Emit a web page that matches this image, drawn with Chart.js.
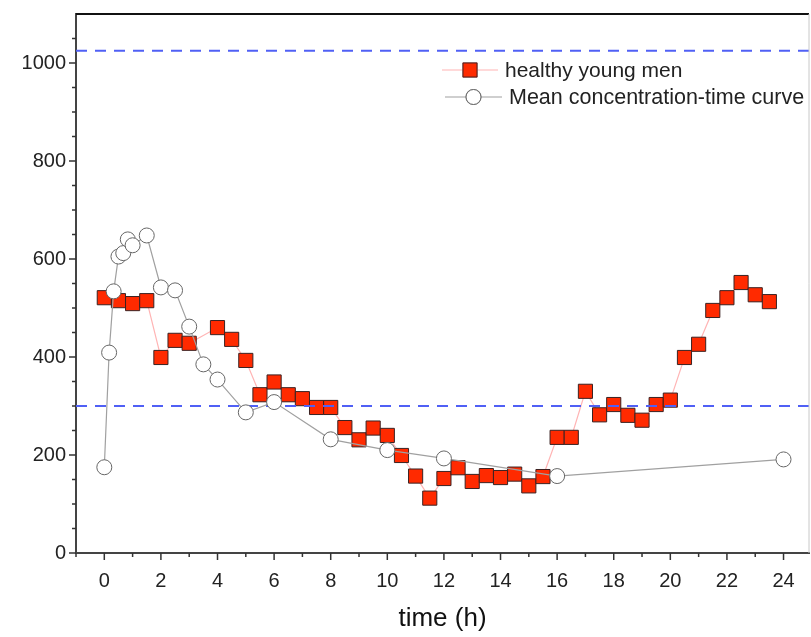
<!DOCTYPE html>
<html>
<head>
<meta charset="utf-8">
<script src="https://cdn.jsdelivr.net/npm/chart.js@4.4.1/dist/chart.umd.min.js"></script>
<style>
  html, body { margin: 0; padding: 0; background: #fff; overflow: hidden; }
  #wrap { width: 811px; height: 637px; }
</style>
</head>
<body>
<div id="wrap"><canvas id="chart"></canvas></div>
<script>
// Données
const menTimes = [0, 0.5, 1, 1.5, 2, 2.5, 3, 4, 4.5, 5, 5.5, 6, 6.5, 7, 7.5, 8, 8.5, 9, 9.5, 10,
    10.5, 11, 11.5, 12, 12.5, 13, 13.5, 14, 14.5, 15, 15.5, 16, 16.5, 17, 17.5, 18, 18.5, 19,
    19.5, 20, 20.5, 21, 21.5, 22, 22.5, 23, 23.5];
const menValues = [521, 515, 509, 515, 399, 434, 428, 460, 436, 393, 323, 349, 323, 315, 297, 297,
    256, 231, 255, 240, 199, 157, 112, 152, 174, 146, 158, 154, 161, 137, 156, 236, 236, 330,
    282, 303, 281, 271, 303, 312, 399, 426, 495, 521, 552, 527, 513];

const meanTimes = [0, 0.17, 0.33, 0.5, 0.67, 0.83, 1, 1.5, 2, 2.5, 3, 3.5, 4, 5, 6, 8, 10, 12, 16, 24];
const meanValues = [175, 409, 534, 605, 612, 640, 628, 648, 542, 536, 462, 385, 354, 287, 308,
    232, 210, 193, 157, 191];

const refLevels = [1025, 300];
const xTickLabels = [0, 2, 4, 6, 8, 10, 12, 14, 16, 18, 20, 22, 24];
const yTickLabels = [0, 200, 400, 600, 800, 1000];

const FONT = "'Liberation Sans', Arial, sans-serif";

const toPoints = (xs, ys) => xs.map((x, i) => ({ x: x, y: ys[i] }));

// Lignes de référence en pointillés (dessinées après les carrés)
const refLinesPlugin = {
    id: "refLines",
    afterDatasetDraw(chart, args) {
        if (args.index !== 0) return;
        const { ctx, chartArea, scales } = chart;
        ctx.save();
        ctx.strokeStyle = "#5060f5";
        ctx.lineWidth = 2;
        ctx.setLineDash([11, 8]);
        refLevels.forEach(v => {
            const y = scales.y.getPixelForValue(v);
            ctx.beginPath();
            ctx.moveTo(chartArea.left, y);
            ctx.lineTo(chartArea.right, y);
            ctx.stroke();
        });
        ctx.restore();
    }
};

// Graduations majeures / mineures et cadre
const ticksPlugin = {
    id: "axisTicks",
    afterDraw(chart) {
        const { ctx, chartArea, scales } = chart;
        ctx.save();
        ctx.strokeStyle = "#333";
        ctx.lineWidth = 1.5;
        for (let t = -1; t <= 24; t++) {
            const x = scales.x.getPixelForValue(t);
            const len = t % 2 === 0 ? 7 : 4;
            ctx.beginPath();
            ctx.moveTo(x, chartArea.bottom);
            ctx.lineTo(x, chartArea.bottom + len);
            ctx.stroke();
        }
        for (let v = 0; v <= 1050; v += 50) {
            const y = scales.y.getPixelForValue(v);
            const len = v % 200 === 0 ? 7 : 4;
            ctx.beginPath();
            ctx.moveTo(chartArea.left, y);
            ctx.lineTo(chartArea.left - len, y);
            ctx.stroke();
        }
        // cadre haut et droit
        ctx.strokeStyle = "#111";
        ctx.lineWidth = 2;
        ctx.beginPath();
        ctx.moveTo(chartArea.left, chartArea.top);
        ctx.lineTo(chartArea.right, chartArea.top);
        ctx.stroke();
        ctx.strokeStyle = "#c8c8c8";
        ctx.lineWidth = 1;
        ctx.beginPath();
        ctx.moveTo(chartArea.right, chartArea.top);
        ctx.lineTo(chartArea.right, chartArea.bottom);
        ctx.stroke();
        ctx.restore();
    }
};

// Légende avec ligne + marqueur
const legendPlugin = {
    id: "lineLegend",
    afterDraw(chart) {
        const { ctx } = chart;
        const items = [
            { ds: chart.data.datasets[0], x0: 442, x1: 498, y: 70, tx: 505, size: 21 },
            { ds: chart.data.datasets[1], x0: 445, x1: 502, y: 97, tx: 509, size: 21.5 }
        ];
        ctx.save();
        items.forEach(it => {
            ctx.strokeStyle = it.ds.borderColor;
            ctx.lineWidth = 1.2;
            ctx.beginPath();
            ctx.moveTo(it.x0, it.y);
            ctx.lineTo(it.x1, it.y);
            ctx.stroke();
            Chart.helpers.drawPoint(ctx, {
                pointStyle: it.ds.pointStyle,
                radius: it.ds.pointRadius,
                borderWidth: it.ds.pointBorderWidth
            }, (it.x0 + it.x1) / 2, it.y);
            ctx.fillStyle = it.ds.pointBackgroundColor;
            ctx.strokeStyle = it.ds.pointBorderColor;
            ctx.lineWidth = it.ds.pointBorderWidth;
            ctx.fill();
            ctx.stroke();
            ctx.fillStyle = "#222";
            ctx.font = it.size + "px " + FONT;
            ctx.textBaseline = "middle";
            ctx.fillText(it.ds.label, it.tx, it.y + 1);
        });
        ctx.restore();
    }
};

document.addEventListener("DOMContentLoaded", () => {
    const ctx = document.getElementById("chart").getContext("2d");

    new Chart(ctx, {
        type: "line",
        data: {
            datasets: [{
                label: "healthy young men",
                data: toPoints(menTimes, menValues),
                borderColor: "#ffb4b4",
                borderWidth: 1.2,
                pointStyle: "rect",
                pointRadius: 10,
                pointBorderWidth: 1,
                pointBackgroundColor: "#ff2a00",
                pointBorderColor: "#3a2222",
                order: 1
            }, {
                label: "Mean concentration-time curve",
                data: toPoints(meanTimes, meanValues),
                borderColor: "#a0a0a0",
                borderWidth: 1.2,
                pointStyle: "circle",
                pointRadius: 7.5,
                pointBorderWidth: 1,
                pointBackgroundColor: "#ffffff",
                pointBorderColor: "#666666",
                order: 0
            }]
        },
        options: {
            responsive: true,
            maintainAspectRatio: false,
            animation: false,
            layout: { autoPadding: false, padding: { top: 14, right: 2, left: 0, bottom: 0 } },
            plugins: {
                legend: { display: false },
                tooltip: { enabled: false }
            },
            scales: {
                x: {
                    type: "linear",
                    min: -1,
                    max: 24.9,
                    afterFit: scale => {
                        scale.height = 84;
                        scale.paddingLeft = 0;
                        scale.paddingRight = 0;
                    },
                    afterBuildTicks: scale => {
                        scale.ticks = xTickLabels.map(v => ({ value: v }));
                    },
                    ticks: {
                        padding: 16,
                        color: "#222",
                        font: { family: FONT, size: 20 },
                        maxRotation: 0,
                        autoSkip: false
                    },
                    grid: { display: false, drawTicks: false },
                    border: { display: true, color: "#444", width: 2 },
                    title: {
                        display: true,
                        text: "time (h)",
                        color: "#111",
                        font: { family: FONT, size: 26 },
                        padding: { top: 0, bottom: 3 }
                    }
                },
                y: {
                    type: "linear",
                    min: 0,
                    max: 1100,
                    afterFit: scale => {
                        scale.width = 76;
                        scale.paddingTop = 0;
                        scale.paddingBottom = 0;
                    },
                    afterBuildTicks: scale => {
                        scale.ticks = yTickLabels.map(v => ({ value: v }));
                    },
                    ticks: {
                        padding: 10,
                        color: "#222",
                        font: { family: FONT, size: 20 },
                        callback: v => String(v)
                    },
                    grid: { display: false, drawTicks: false },
                    border: { display: true, color: "#444", width: 2 }
                }
            }
        },
        plugins: [refLinesPlugin, ticksPlugin, legendPlugin]
    });
});
</script>
</body>
</html>
